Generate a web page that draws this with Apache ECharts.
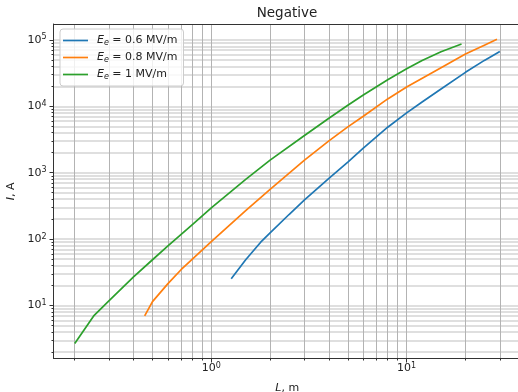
<!DOCTYPE html>
<html><head><meta charset="utf-8">
<script src="https://cdn.jsdelivr.net/npm/echarts@6/dist/echarts.min.js"></script>
<style>html,body{margin:0;padding:0;background:#fff}#c{width:518px;height:392px}</style>
</head><body><div id="c"></div>
<script>
// ---- data ----
const fieldLabels = ['0.6', '0.8', '1'];

const L_06 = [1.265, 1.5, 1.79, 2, 2.5, 3, 4, 5, 6, 8, 10, 12, 15, 20, 25, 30];
const I_06 = [25.4, 49, 90, 124, 235, 389, 822, 1445, 2340, 4840, 7940, 11600, 18200, 32400, 49000, 66500];

const L_08 = [0.456, 0.5, 0.6, 0.7, 0.8, 1, 1.5, 2, 3, 4, 5, 6, 8, 10, 15, 20, 25, 29];
const I_08 = [7.0, 11.5, 21.4, 34.7, 50, 92, 269, 562, 1550, 3020, 4900, 7080, 12900, 19500, 38000, 61000, 83000, 102000];

const L_10 = [0.2, 0.25, 0.3, 0.4, 0.5, 0.6, 0.8, 1, 1.5, 2, 3, 4, 5, 6, 8, 10, 12, 15, 19.1];
const I_10 = [2.7, 7.0, 11.9, 27, 49, 79, 166, 295, 795, 1550, 3630, 6600, 10350, 14800, 25100, 36700, 49000, 66000, 86300];

const xMajorTicks = [1, 10];
const xMinorTicks = [0.2, 0.3, 0.4, 0.5, 0.6, 0.7, 0.8, 0.9, 2, 3, 4, 5, 6, 7, 8, 9, 20, 30];
const yMajorTicks = [10, 100, 1000, 10000, 100000];
const yMinorTicks = [2, 3, 4, 5, 6, 7, 8, 9, 20, 30, 40, 50, 60, 70, 80, 90,
  200, 300, 400, 500, 600, 700, 800, 900, 2000, 3000, 4000, 5000, 6000, 7000, 8000, 9000,
  20000, 30000, 40000, 50000, 60000, 70000, 80000, 90000];

const X_MIN = 0.1557, X_MAX = 38.5;
const Y_MIN = 1.6, Y_MAX = 173000;

// ---- chart ----
const FONT = 'DejaVu Sans';
const TXT = '#222';
const SPINE = '#333';
const colors = ['#1f77b4', '#ff7f0e', '#2ca02c'];
const seriesX = [L_06, L_08, L_10];
const seriesY = [I_06, I_08, I_10];

const tickRich = {
  b: {fontFamily: FONT, fontSize: 11, color: TXT, lineHeight: 13, padding: [4, 0, 4, 0], verticalAlign: 'middle'},
  sup: {fontFamily: FONT, fontSize: 8, color: TXT, lineHeight: 9, verticalAlign: 'top'}
};
function powLabel(v) {
  const e = Math.round(Math.log10(v));
  return '{b|10}{sup|' + e + '}';
}
const vGrid = {show: true, lineStyle: {color: '#b3b3b3', width: 1}};
const hGrid = {show: true, lineStyle: {color: '#d4d4d4', width: 1.5}};
const spineLine = {show: true, onZero: false, lineStyle: {color: SPINE, width: 1}};
const nameStyle = {fontFamily: FONT, fontSize: 11, color: TXT,
  rich: {i: {fontFamily: FONT, fontSize: 11, fontStyle: 'italic', color: TXT}}};

const chart = echarts.init(document.getElementById('c'), null, {renderer: 'canvas', width: 518, height: 392});
const option = {
  animation: false,
  backgroundColor: '#fff',
  color: colors,
  title: {
    text: 'Negative', left: 287, top: 6, textAlign: 'center', padding: 0,
    textStyle: {fontFamily: FONT, fontSize: 13.5, fontWeight: 'normal', color: TXT}
  },
  grid: {left: 53.5, top: 24, width: 467.5, height: 334.5, show: false,
    containLabel: false, outerBoundsMode: 'none'},
  legend: {
    orient: 'vertical', left: 60, top: 29, padding: [5, 6, 5, 3], itemGap: 4,
    itemWidth: 25, itemHeight: 1.7, icon: 'rect',
    backgroundColor: 'rgba(255,255,255,0.8)', borderColor: '#cccccc', borderWidth: 1, borderRadius: 3,
    data: fieldLabels,
    formatter: n => '{i|E}{s|e} = ' + n + ' MV/m',
    textStyle: {
      fontFamily: FONT, fontSize: 11, color: TXT, lineHeight: 13, padding: [0, 0, 0, 4],
      rich: {
        i: {fontFamily: FONT, fontSize: 11, fontStyle: 'italic', color: TXT, lineHeight: 13},
        s: {fontFamily: FONT, fontSize: 8, fontStyle: 'italic', color: TXT, lineHeight: 8, padding: [4, 0, 0, 0], verticalAlign: 'middle'}
      }
    }
  },
  xAxis: [{
    type: 'log', logBase: 10, min: X_MIN, max: X_MAX, position: 'bottom',
    axisLine: spineLine,
    axisTick: {show: true, customValues: xMajorTicks, length: 4, lineStyle: {color: SPINE, width: 1}},
    axisLabel: {customValues: xMajorTicks, formatter: powLabel, rich: tickRich, margin: 3},
    splitLine: vGrid,
    name: '{i|L}, m', nameLocation: 'middle', nameGap: 22, nameTextStyle: nameStyle
  }, {
    type: 'log', logBase: 10, min: X_MIN, max: X_MAX, position: 'bottom',
    axisLine: {show: false},
    axisTick: {show: true, customValues: xMinorTicks, length: 2, lineStyle: {color: SPINE, width: 1}},
    axisLabel: {show: false},
    splitLine: vGrid
  }, {
    type: 'log', logBase: 10, min: X_MIN, max: X_MAX, position: 'top',
    axisLine: spineLine,
    axisTick: {show: false}, axisLabel: {show: false}, splitLine: {show: false}
  }],
  yAxis: [{
    type: 'log', logBase: 10, min: Y_MIN, max: Y_MAX, position: 'left',
    axisLine: spineLine,
    axisTick: {show: true, customValues: yMajorTicks, length: 4, lineStyle: {color: SPINE, width: 1}},
    axisLabel: {customValues: yMajorTicks, formatter: powLabel, rich: tickRich, margin: 7},
    splitLine: hGrid,
    name: '{i|I}, A', nameLocation: 'middle', nameGap: 32, nameRotate: 90, nameTextStyle: nameStyle
  }, {
    type: 'log', logBase: 10, min: Y_MIN, max: Y_MAX, position: 'left',
    axisLine: {show: false},
    axisTick: {show: true, customValues: yMinorTicks, length: 2, lineStyle: {color: SPINE, width: 1}},
    axisLabel: {show: false},
    splitLine: hGrid
  }],
  series: fieldLabels.map((name, k) => ({
    name: name, type: 'line', xAxisIndex: 0, yAxisIndex: 0,
    symbol: 'none', showSymbol: false, smooth: false, z: 3,
    lineStyle: {color: colors[k], width: 1.7},
    itemStyle: {color: colors[k]},
    data: seriesX[k].map((x, i) => [x, seriesY[k][i]])
  }))
};
chart.setOption(option);
</script></body></html>
